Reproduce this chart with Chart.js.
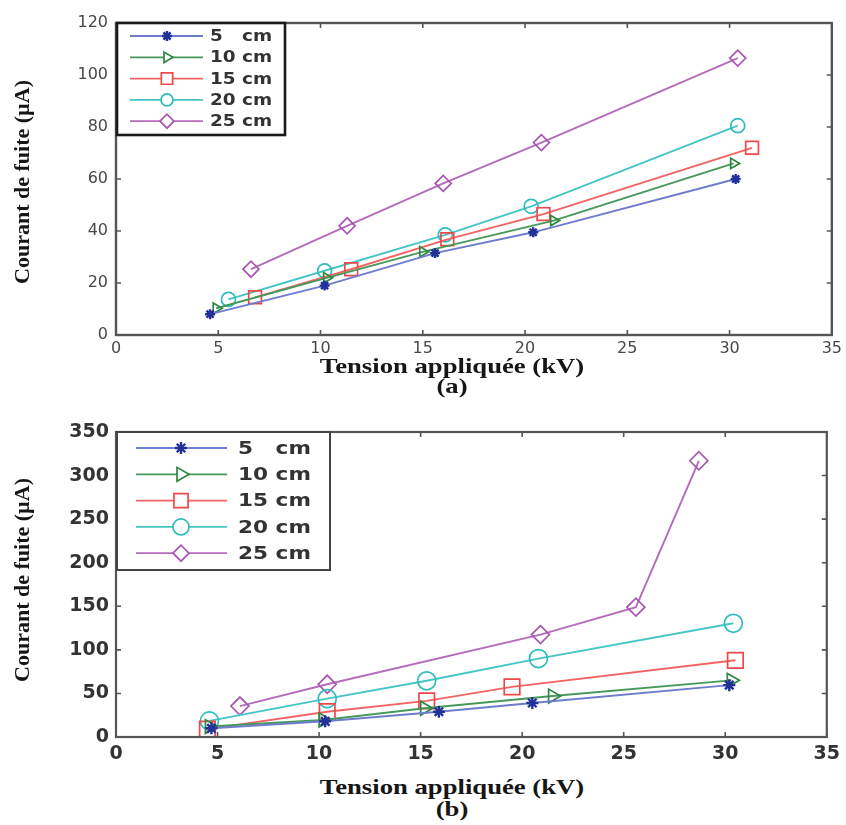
<!DOCTYPE html>
<html>
<head>
<meta charset="utf-8">
<script src="https://cdn.jsdelivr.net/npm/chart.js@4.4.1/dist/chart.umd.min.js"></script>
<style>
  body { margin: 0; background: #fff; }
  #wrap { position: relative; width: 846px; height: 825px; overflow: hidden; background: #fff; }
  canvas { position: absolute; left: 0; }
  .lbl { position: absolute; font-family: "Liberation Serif", "Times New Roman", serif; font-weight: bold;
         color: #161616; white-space: nowrap; }
  .ytitle { font-size: 22px; transform: translate(-50%, -50%) rotate(-90deg); }
  .xtitle { font-size: 21px; transform: translate(-50%, -50%) scaleX(1.27); }
</style>
</head>
<body>
<div id="wrap">
  <canvas id="chartA" width="846" height="360" style="top:0px"></canvas>
  <canvas id="chartB" width="846" height="360" style="top:400px"></canvas>

  <div class="lbl ytitle" style="left:22px; top:182px">Courant de fuite (µA)</div>
  <div class="lbl xtitle" style="left:452px; top:366px">Tension appliquée (kV)</div>
  <div class="lbl xtitle" style="left:452px; top:386px">(a)</div>

  <div class="lbl ytitle" style="left:22px; top:580px">Courant de fuite (µA)</div>
  <div class="lbl xtitle" style="left:452px; top:787px">Tension appliquée (kV)</div>
  <div class="lbl xtitle" style="left:452px; top:809px">(b)</div>
</div>

<script>
// electrode spacing, one series per spacing
const gaps = ['5  cm', '10 cm', '15 cm', '20 cm', '25 cm'];

// (a) applied voltage (kV) / leakage current (µA)
const voltA5  = [4.6, 10.2, 15.6, 20.4, 30.3];
const currA5  = [8, 19, 31.5, 39.5, 60];
const voltA10 = [4.9, 10.3, 15.0, 21.4, 30.2];
const currA10 = [10.3, 22, 32, 44, 66];
const voltA15 = [6.8, 11.5, 16.2, 20.9, 31.1];
const currA15 = [14.5, 25.3, 36.8, 46.5, 72];
const voltA20 = [5.5, 10.2, 16.1, 20.3, 30.4];
const currA20 = [13.7, 24.7, 38.5, 49.5, 80.5];
const voltA25 = [6.6, 11.3, 16.0, 20.8, 30.4];
const currA25 = [25.3, 42, 58.3, 74, 106.5];

// (b)
const voltB5  = [4.7, 10.3, 15.9, 20.5, 30.2];
const currB5  = [10, 18, 29, 39, 59.5];
const voltB10 = [4.6, 10.2, 15.2, 21.5, 30.3];
const currB10 = [12, 19.5, 33, 47, 65];
const voltB15 = [4.5, 10.4, 15.3, 19.5, 30.5];
const currB15 = [9, 29, 41.5, 57.5, 88];
const voltB20 = [4.6, 10.4, 15.3, 20.8, 30.4];
const currB20 = [18.5, 44, 64.5, 90, 130.5];
const voltB25 = [6.1, 10.4, 20.9, 25.6, 28.7];
const currB25 = [35.5, 60.5, 117.5, 149, 317];

// x ticks / y ticks: min, max, step
const voltTicks = [0, 35, 5];
const currTicksA = [0, 120, 20];
const currTicksB = [0, 350, 50];

const lineColors  = ['#6e7ccc', '#46995a', '#f26464', '#45c5c5', '#b46cbb'];
const markColors  = ['#22319a', '#2f8544', '#f04848', '#2fbcbc', '#a857b0'];
const markStyles  = ['star', 'triangle', 'rect', 'circle', 'rectRot'];
const markRotate  = [0, 90, 0, 0, 0];

function makeSets(volts, currs, radii) {
  return volts.map(function (v, i) {
    return {
      label: gaps[i],
      data: v.map(function (x, k) { return { x: x, y: currs[i][k] }; }),
      showLine: true,
      borderColor: lineColors[i],
      borderWidth: 1.9,
      pointStyle: markStyles[i],
      rotation: markRotate[i],
      pointRadius: radii[i],
      pointBorderColor: markColors[i],
      pointBackgroundColor: 'rgba(0,0,0,0)',
      pointBorderWidth: i === 0 ? 2.4 : 1.7
    };
  });
}

function marker(ctx, style, radius, rotation, x, y) {
  if (Chart.helpers && Chart.helpers.drawPoint) {
    Chart.helpers.drawPoint(ctx, { pointStyle: style, radius: radius, rotation: rotation, borderWidth: 1 }, x, y);
    return;
  }
  ctx.beginPath();
  ctx.arc(x, y, radius, 0, Math.PI * 2);
  ctx.stroke();
}

// box frame with inward ticks, plus the legend box in the upper left corner
const boxFrame = {
  id: 'boxFrame',
  afterDraw(chart, args, o) {
    const ctx = chart.ctx, a = chart.chartArea;
    const xs = chart.scales.x, ys = chart.scales.y;
    ctx.save();
    ctx.strokeStyle = o.frameColor;
    ctx.lineWidth = 1.6;
    ctx.beginPath();
    xs.ticks.forEach(function (t) {
      const px = xs.getPixelForValue(t.value);
      ctx.moveTo(px, a.bottom); ctx.lineTo(px, a.bottom - o.tick);
      ctx.moveTo(px, a.top); ctx.lineTo(px, a.top + o.tick);
    });
    ys.ticks.forEach(function (t) {
      const py = ys.getPixelForValue(t.value);
      ctx.moveTo(a.left, py); ctx.lineTo(a.left + o.tick, py);
      ctx.moveTo(a.right, py); ctx.lineTo(a.right - o.tick, py);
    });
    ctx.stroke();
    ctx.lineWidth = o.frameWidth;
    ctx.strokeRect(a.left, a.top, a.right - a.left, a.bottom - a.top);

    // legend
    const L = o.legend;
    const bx = a.left + 1, by = a.top;
    ctx.fillStyle = '#fff';
    ctx.fillRect(bx, by, L.w, L.h);
    chart.data.datasets.forEach(function (ds, i) {
      const ry = by + L.first + i * L.gap;
      ctx.strokeStyle = ds.borderColor;
      ctx.lineWidth = 1.8;
      ctx.beginPath();
      ctx.moveTo(bx + L.line0, ry); ctx.lineTo(bx + L.line1, ry);
      ctx.stroke();
      ctx.strokeStyle = ds.pointBorderColor;
      ctx.fillStyle = ds.pointStyle === 'star' ? ds.pointBorderColor : '#fff';
      ctx.lineWidth = ds.pointBorderWidth;
      marker(ctx, ds.pointStyle, L.radii[i], ds.rotation, bx + L.mark, ry);
      ctx.save();
      ctx.translate(bx + L.text, ry);
      ctx.scale(L.stretch, 1);
      ctx.fillStyle = '#333';
      ctx.font = L.font;
      ctx.textBaseline = 'middle';
      ctx.textAlign = 'left';
      // figure space keeps "cm" lined up under the two-digit labels
      ctx.fillText(ds.label.replace('  ', '\u2007 '), 0, 1);
      ctx.restore();
    });
    ctx.strokeStyle = L.border;
    ctx.lineWidth = L.borderWidth;
    ctx.strokeRect(bx, by, L.w, L.h);
    ctx.restore();
  }
};

function makeChart(id, sets, yTicks, cfg) {
  return new Chart(document.getElementById(id), {
    type: 'scatter',
    data: { datasets: sets },
    plugins: [boxFrame],
    options: {
      responsive: false,
      animation: false,
      layout: { padding: { top: cfg.top, right: cfg.right, left: 0, bottom: 0 } },
      plugins: {
        legend: { display: false },
        tooltip: { enabled: false },
        boxFrame: cfg.frame
      },
      scales: {
        x: {
          type: 'linear', min: voltTicks[0], max: voltTicks[1],
          ticks: { stepSize: voltTicks[2], padding: cfg.xPad, color: cfg.tickColor, font: cfg.tickFont },
          grid: { display: false, drawTicks: false },
          border: { display: false },
          afterFit(s) { s.height = cfg.xHeight; }
        },
        y: {
          type: 'linear', min: yTicks[0], max: yTicks[1],
          ticks: { stepSize: yTicks[2], padding: cfg.yPad, color: cfg.tickColor, font: cfg.tickFont },
          grid: { display: false, drawTicks: false },
          border: { display: false },
          afterFit(s) { s.width = cfg.yWidth; }
        }
      }
    }
  });
}

makeChart('chartA',
  makeSets([voltA5, voltA10, voltA15, voltA20, voltA25],
           [currA5, currA10, currA15, currA20, currA25], [5, 6, 9, 7, 8]),
  currTicksA,
  {
    top: 23, right: 13, xHeight: 25, yWidth: 116, xPad: 4, yPad: 8,
    tickColor: '#484848', tickFont: { family: 'DejaVu Sans', size: 16 },
    frame: {
      frameColor: '#555', frameWidth: 2.4, tick: 5,
      legend: { w: 168, h: 112, first: 13, gap: 21.3, line0: 13, line1: 86, mark: 50, text: 93,
                radii: [5, 6, 8, 6, 7], font: 'bold 16px "DejaVu Sans"', stretch: 1.15,
                border: '#1a1a1a', borderWidth: 2.6 }
    }
  });

makeChart('chartB',
  makeSets([voltB5, voltB10, voltB15, voltB20, voltB25],
           [currB5, currB10, currB15, currB20, currB25], [6, 8, 11, 9, 9]),
  currTicksB,
  {
    top: 32, right: 18, xHeight: 23, yWidth: 116, xPad: 6, yPad: 7,
    tickColor: '#333', tickFont: { family: 'DejaVu Sans', size: 19, weight: 'bold' },
    frame: {
      frameColor: '#555', frameWidth: 2.2, tick: 5,
      legend: { w: 213, h: 138, first: 16, gap: 26.3, line0: 19, line1: 110, mark: 64, text: 121,
                radii: [6, 8, 10, 8, 8], font: 'bold 18px "DejaVu Sans"', stretch: 1.2,
                border: '#444', borderWidth: 2 }
    }
  });
</script>
</body>
</html>
